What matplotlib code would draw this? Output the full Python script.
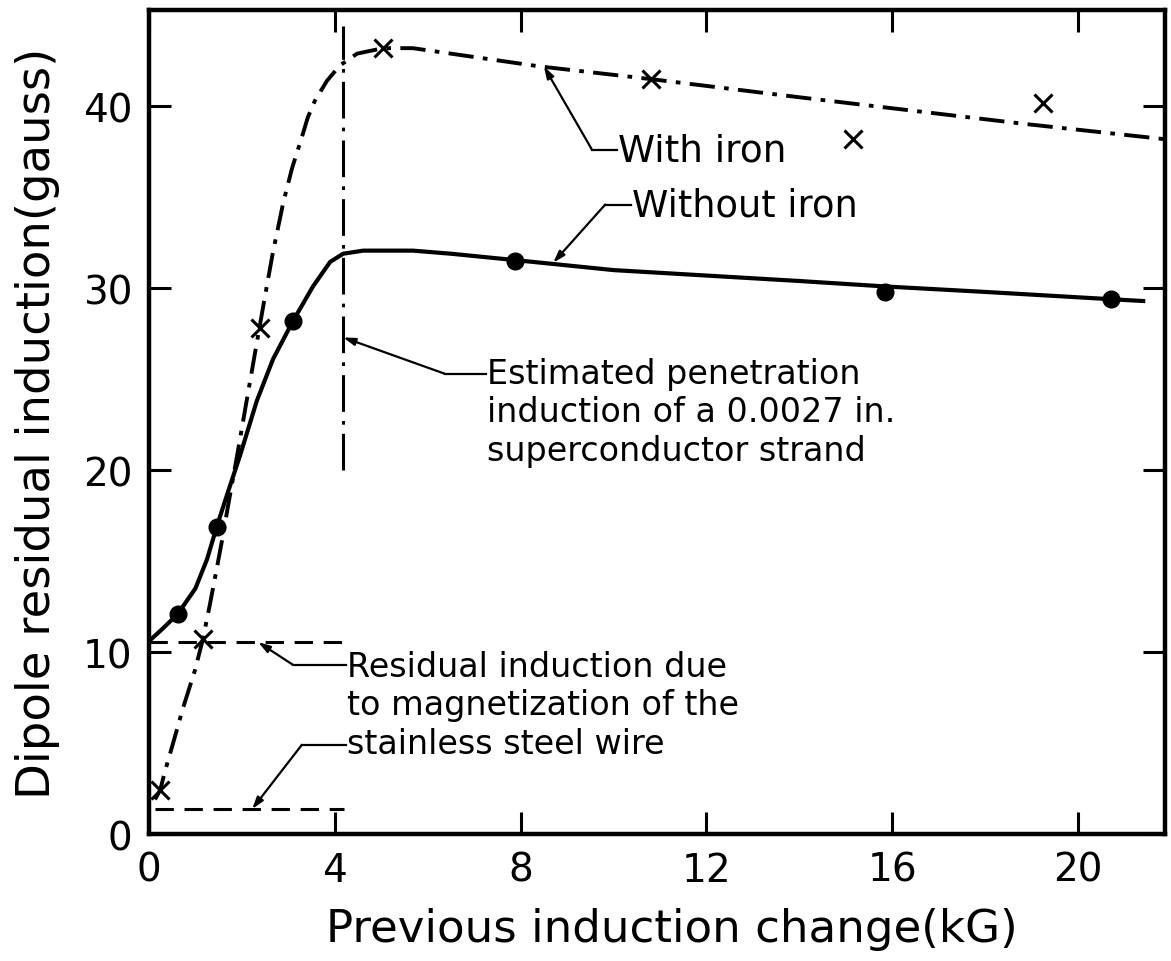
import matplotlib
matplotlib.use("Agg")
import matplotlib.pyplot as plt
import numpy as np

# points
# without iron: measured points (filled dots) and the drawn curve
wo_pts_x = [0.62, 1.46, 3.1, 7.88, 15.85, 20.7]
wo_pts_y = [12.1, 16.9, 28.2, 31.5, 29.8, 29.4]
wo_curve_x = [0.0, 0.3, 0.62, 1.0, 1.25, 1.46, 1.70, 1.96, 2.32, 2.67, 3.1, 3.53,
              3.9, 4.18, 4.61, 5.68, 6.5, 7.88, 10, 12, 14, 15.85, 18, 20.7, 21.4]
wo_curve_y = [10.6, 11.3, 12.1, 13.5, 15.1, 16.9, 18.8, 20.8, 23.8, 26.1, 28.2, 30.1,
              31.45, 31.9, 32.07, 32.07, 31.9, 31.55, 31.0, 30.7, 30.4, 30.1, 29.8, 29.4, 29.3]

# with iron: measured points (crosses) and the drawn curve
wi_pts_x = [0.24, 1.16, 2.39, 5.04, 10.8, 15.16, 19.25]
wi_pts_y = [2.4, 10.7, 27.8, 43.2, 41.5, 38.2, 40.2]
wi_curve_x = [0.13, 0.24, 0.34, 0.52, 0.73, 0.99, 1.16, 1.31, 1.46, 1.57, 1.70, 1.89,
              2.02, 2.17, 2.28, 2.39, 2.5, 2.67, 2.89, 3.08, 3.29, 3.42, 3.57, 3.83,
              4.11, 4.48, 5.04, 5.68, 8.4, 10.8, 14.0, 18.8, 21.85]
wi_curve_y = [1.9, 2.4, 3.4, 5.0, 6.9, 9.0, 10.7, 12.6, 14.6, 16.1, 18.0, 20.7,
              22.6, 24.8, 26.4, 28.0, 29.6, 32.0, 34.7, 36.6, 38.3, 39.4, 40.3, 41.4,
              42.25, 42.9, 43.2, 43.2, 42.2, 41.5, 40.5, 39.05, 38.2]

# residual levels from the stainless steel wire (without / with iron)
resid_wo = 10.55
resid_wi = 1.37
resid_x_end = 4.2

# estimated penetration induction of the strand
pen_x = 4.18
pen_y = [20, 44.4]

fig = plt.figure(figsize=(11.71, 9.62), dpi=100)
ax = fig.add_axes([0.1272, 0.132, 0.8677, 0.8566])

ax.plot(wo_curve_x, wo_curve_y, color="k", lw=3)
ax.plot(wo_pts_x, wo_pts_y, "o", color="k", ms=12)

ax.plot(wi_curve_x, wi_curve_y, color="k", lw=2.8, dashes=(6.5, 2.4, 1.2, 2.4))
ax.plot(wi_pts_x, wi_pts_y, "x", color="k", ms=13, mew=2.2)

ax.plot([0, resid_x_end], [resid_wo, resid_wo], color="k", lw=2.2, dashes=(6, 3.5))
ax.plot([0.13, resid_x_end], [resid_wi, resid_wi], color="k", lw=2.2, dashes=(6, 3.5))

ax.plot([pen_x, pen_x], pen_y, color="k", lw=2.2, dashes=(12, 3, 1.2, 3))

# leader lines: text -> short horizontal -> diagonal with arrowhead
def leader(tx, ty, ex, ey, target):
    ax.plot([tx, ex], [ty, ey], color="k", lw=1.6)
    ax.annotate("", xy=target, xytext=(ex, ey),
                arrowprops=dict(arrowstyle="-|>,head_length=0.7,head_width=0.22",
                                color="k", lw=1.6, shrinkA=0, shrinkB=0))

lab = dict(color="k", ha="left", va="center", linespacing=1.2)

ax.text(10.1, 37.6, "With iron", fontsize=27, **lab)
leader(10.08, 37.6, 9.54, 37.6, (8.5, 42.2))

ax.text(10.4, 34.6, "Without iron", fontsize=26.5, **lab)
leader(10.38, 34.6, 9.82, 34.6, (8.7, 31.4))

ax.text(7.28, 23.2, "Estimated penetration\ninduction of a 0.0027 in.\nsuperconductor strand",
        fontsize=24, **lab)
leader(7.26, 25.3, 6.37, 25.3, (pen_x, 27.3))

ax.text(4.26, 7.1, "Residual induction due\nto magnetization of the\nstainless steel wire",
        fontsize=24, **lab)
leader(4.24, 9.3, 3.1, 9.3, (2.35, resid_wo))
leader(4.24, 4.9, 3.29, 4.9, (2.22, resid_wi))

ax.set_xlim(0, 21.87)
ax.set_ylim(0, 45.3)
ax.set_xticks([0, 4, 8, 12, 16, 20])
ax.set_yticks([0, 10, 20, 30, 40])
ax.tick_params(direction="in", top=True, right=True, length=16, width=2.2,
               labelsize=28, pad=12, colors="k")
for s in ax.spines.values():
    s.set_linewidth(3.2)

ax.set_xlabel("Previous induction change(kG)", fontsize=32.5, labelpad=13)
ax.set_ylabel("Dipole residual induction(gauss)", fontsize=33.5, labelpad=16)
ax.xaxis.label.set_x(0.515)

fig.savefig("out.png", dpi=100)
